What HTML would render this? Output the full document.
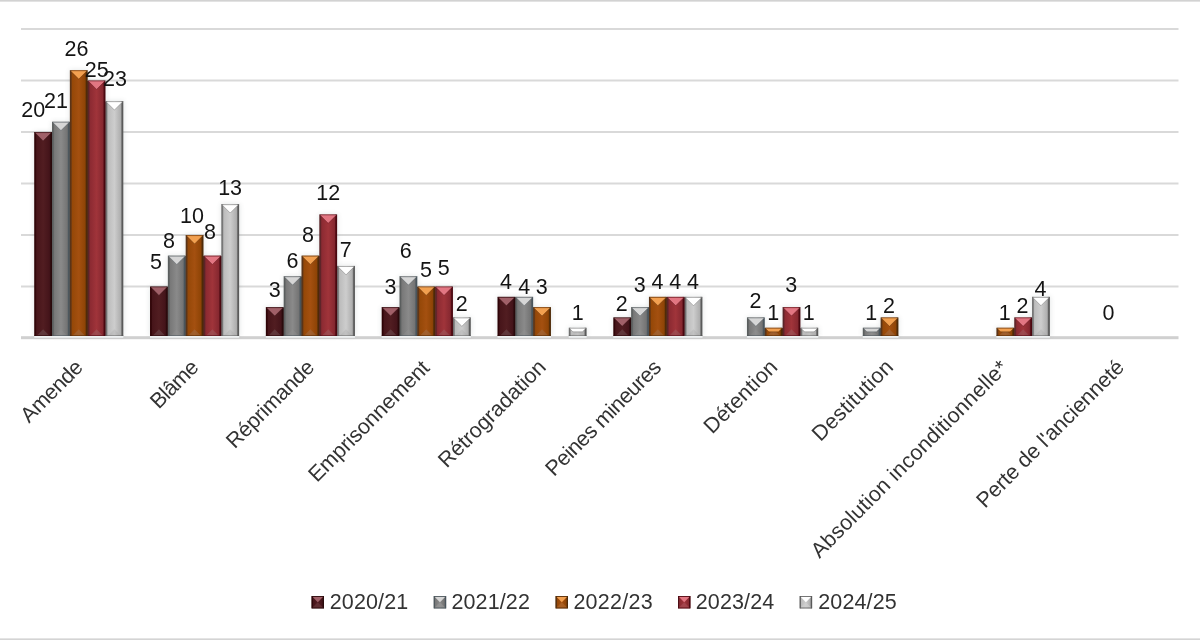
<!DOCTYPE html><html><head><meta charset="utf-8"><style>html,body{margin:0;padding:0;background:#fff;}body{width:1200px;height:640px;overflow:hidden;position:relative;}svg{position:absolute;left:0;top:0;will-change:transform;}text{font-family:"Liberation Sans",sans-serif;}</style></head><body>
<svg width="1200" height="640" viewBox="0 0 1200 640">
<defs>
<linearGradient id="g0" x1="0" x2="1" y1="0" y2="0"><stop offset="0" stop-color="#2e0306"/><stop offset="0.06" stop-color="#2e0306"/><stop offset="0.14" stop-color="#47151a"/><stop offset="0.5" stop-color="#511d21"/><stop offset="0.85" stop-color="#44141a"/><stop offset="0.93" stop-color="#2a0a0c"/><stop offset="1" stop-color="#2a0a0c"/></linearGradient>
<linearGradient id="g1" x1="0" x2="1" y1="0" y2="0"><stop offset="0" stop-color="#5a5e5e"/><stop offset="0.06" stop-color="#5a5e5e"/><stop offset="0.14" stop-color="#787878"/><stop offset="0.5" stop-color="#8a8a8a"/><stop offset="0.85" stop-color="#747474"/><stop offset="0.93" stop-color="#4a555c"/><stop offset="1" stop-color="#4a555c"/></linearGradient>
<linearGradient id="g2" x1="0" x2="1" y1="0" y2="0"><stop offset="0" stop-color="#5a3418"/><stop offset="0.06" stop-color="#5a3418"/><stop offset="0.14" stop-color="#954808"/><stop offset="0.5" stop-color="#a45010"/><stop offset="0.85" stop-color="#8e4406"/><stop offset="0.93" stop-color="#4e2a08"/><stop offset="1" stop-color="#4e2a08"/></linearGradient>
<linearGradient id="g3" x1="0" x2="1" y1="0" y2="0"><stop offset="0" stop-color="#5a2428"/><stop offset="0.06" stop-color="#5a2428"/><stop offset="0.14" stop-color="#8c2a32"/><stop offset="0.5" stop-color="#a0343a"/><stop offset="0.85" stop-color="#862830"/><stop offset="0.93" stop-color="#4a0810"/><stop offset="1" stop-color="#4a0810"/></linearGradient>
<linearGradient id="g4" x1="0" x2="1" y1="0" y2="0"><stop offset="0" stop-color="#707070"/><stop offset="0.06" stop-color="#707070"/><stop offset="0.14" stop-color="#bcbcbc"/><stop offset="0.5" stop-color="#cdcdcd"/><stop offset="0.85" stop-color="#aeaeae"/><stop offset="0.93" stop-color="#5a5a5a"/><stop offset="1" stop-color="#5a5a5a"/></linearGradient>
<filter id="sh" x="-50%" y="-50%" width="200%" height="200%"><feGaussianBlur stdDeviation="2.4"/></filter>
<linearGradient id="bg" x1="0" x2="0" y1="1" y2="0"><stop offset="0" stop-color="#fff" stop-opacity="0.22"/><stop offset="0.55" stop-color="#fff" stop-opacity="0.08"/><stop offset="1" stop-color="#fff" stop-opacity="0"/></linearGradient>
</defs>
<rect x="0" y="0" width="1200" height="1" fill="#d2d2d2"/><rect x="0" y="1" width="1200" height="1" fill="#e2e2e2"/>
<rect x="0" y="639" width="1200" height="1" fill="#d4d4d4"/><rect x="0" y="638" width="1200" height="1" fill="#e4e4e4"/>
<rect x="21" y="285.50" width="1157.5" height="2" fill="#d9d9d9"/>
<rect x="21" y="234.00" width="1157.5" height="2" fill="#d9d9d9"/>
<rect x="21" y="182.50" width="1157.5" height="2" fill="#d9d9d9"/>
<rect x="21" y="131.00" width="1157.5" height="2" fill="#d9d9d9"/>
<rect x="21" y="79.50" width="1157.5" height="2" fill="#d9d9d9"/>
<rect x="21" y="28.00" width="1157.5" height="2" fill="#d9d9d9"/>
<rect x="21" y="336.2" width="1157.5" height="3" fill="#d0d0d0"/>
<rect x="33.92" y="131.70" width="18.72" height="204.30" fill="#5a6a6a" opacity="0.16" filter="url(#sh)"/>
<rect x="51.74" y="121.40" width="18.72" height="214.60" fill="#5a6a6a" opacity="0.16" filter="url(#sh)"/>
<rect x="69.56" y="69.90" width="18.72" height="266.10" fill="#5a6a6a" opacity="0.16" filter="url(#sh)"/>
<rect x="87.38" y="80.20" width="18.72" height="255.80" fill="#5a6a6a" opacity="0.16" filter="url(#sh)"/>
<rect x="105.20" y="100.80" width="18.72" height="235.20" fill="#5a6a6a" opacity="0.16" filter="url(#sh)"/>
<rect x="149.73" y="286.20" width="18.72" height="49.80" fill="#5a6a6a" opacity="0.16" filter="url(#sh)"/>
<rect x="167.55" y="255.30" width="18.72" height="80.70" fill="#5a6a6a" opacity="0.16" filter="url(#sh)"/>
<rect x="185.38" y="234.70" width="18.72" height="101.30" fill="#5a6a6a" opacity="0.16" filter="url(#sh)"/>
<rect x="203.19" y="255.30" width="18.72" height="80.70" fill="#5a6a6a" opacity="0.16" filter="url(#sh)"/>
<rect x="221.01" y="203.80" width="18.72" height="132.20" fill="#5a6a6a" opacity="0.16" filter="url(#sh)"/>
<rect x="265.55" y="306.80" width="18.72" height="29.20" fill="#5a6a6a" opacity="0.16" filter="url(#sh)"/>
<rect x="283.37" y="275.90" width="18.72" height="60.10" fill="#5a6a6a" opacity="0.16" filter="url(#sh)"/>
<rect x="301.19" y="255.30" width="18.72" height="80.70" fill="#5a6a6a" opacity="0.16" filter="url(#sh)"/>
<rect x="319.01" y="214.10" width="18.72" height="121.90" fill="#5a6a6a" opacity="0.16" filter="url(#sh)"/>
<rect x="336.83" y="265.60" width="18.72" height="70.40" fill="#5a6a6a" opacity="0.16" filter="url(#sh)"/>
<rect x="381.38" y="306.80" width="18.72" height="29.20" fill="#5a6a6a" opacity="0.16" filter="url(#sh)"/>
<rect x="399.19" y="275.90" width="18.72" height="60.10" fill="#5a6a6a" opacity="0.16" filter="url(#sh)"/>
<rect x="417.01" y="286.20" width="18.72" height="49.80" fill="#5a6a6a" opacity="0.16" filter="url(#sh)"/>
<rect x="434.83" y="286.20" width="18.72" height="49.80" fill="#5a6a6a" opacity="0.16" filter="url(#sh)"/>
<rect x="452.66" y="317.10" width="18.72" height="18.90" fill="#5a6a6a" opacity="0.16" filter="url(#sh)"/>
<rect x="497.19" y="296.50" width="18.72" height="39.50" fill="#5a6a6a" opacity="0.16" filter="url(#sh)"/>
<rect x="515.02" y="296.50" width="18.72" height="39.50" fill="#5a6a6a" opacity="0.16" filter="url(#sh)"/>
<rect x="532.84" y="306.80" width="18.72" height="29.20" fill="#5a6a6a" opacity="0.16" filter="url(#sh)"/>
<rect x="568.48" y="327.40" width="18.72" height="8.60" fill="#5a6a6a" opacity="0.16" filter="url(#sh)"/>
<rect x="613.01" y="317.10" width="18.72" height="18.90" fill="#5a6a6a" opacity="0.16" filter="url(#sh)"/>
<rect x="630.84" y="306.80" width="18.72" height="29.20" fill="#5a6a6a" opacity="0.16" filter="url(#sh)"/>
<rect x="648.65" y="296.50" width="18.72" height="39.50" fill="#5a6a6a" opacity="0.16" filter="url(#sh)"/>
<rect x="666.48" y="296.50" width="18.72" height="39.50" fill="#5a6a6a" opacity="0.16" filter="url(#sh)"/>
<rect x="684.29" y="296.50" width="18.72" height="39.50" fill="#5a6a6a" opacity="0.16" filter="url(#sh)"/>
<rect x="746.66" y="317.10" width="18.72" height="18.90" fill="#5a6a6a" opacity="0.16" filter="url(#sh)"/>
<rect x="764.48" y="327.40" width="18.72" height="8.60" fill="#5a6a6a" opacity="0.16" filter="url(#sh)"/>
<rect x="782.30" y="306.80" width="18.72" height="29.20" fill="#5a6a6a" opacity="0.16" filter="url(#sh)"/>
<rect x="800.12" y="327.40" width="18.72" height="8.60" fill="#5a6a6a" opacity="0.16" filter="url(#sh)"/>
<rect x="862.48" y="327.40" width="18.72" height="8.60" fill="#5a6a6a" opacity="0.16" filter="url(#sh)"/>
<rect x="880.30" y="317.10" width="18.72" height="18.90" fill="#5a6a6a" opacity="0.16" filter="url(#sh)"/>
<rect x="996.12" y="327.40" width="18.72" height="8.60" fill="#5a6a6a" opacity="0.16" filter="url(#sh)"/>
<rect x="1013.94" y="317.10" width="18.72" height="18.90" fill="#5a6a6a" opacity="0.16" filter="url(#sh)"/>
<rect x="1031.76" y="296.50" width="18.72" height="39.50" fill="#5a6a6a" opacity="0.16" filter="url(#sh)"/>
<rect x="34.22" y="132.00" width="17.82" height="204.00" fill="url(#g0)"/>
<polygon points="37.02,335.40 49.24,335.40 43.13,329.29 43.12,329.29" fill="#9a9a9a" opacity="0.22"/>
<rect x="34.22" y="335.20" width="17.82" height="0.8" fill="#2a0a0c" opacity="0.6"/>
<polygon points="34.82,132.60 51.44,132.60 43.12,140.91 43.12,140.91" fill="#a06068" stroke="#2a0a0c" stroke-width="0.7" stroke-opacity="0.55" stroke-linejoin="round"/>
<rect x="51.44" y="132.50" width="1.2" height="203.50" fill="#2a0a0c"/>
<rect x="52.04" y="121.70" width="17.82" height="214.30" fill="url(#g1)"/>
<polygon points="54.84,335.40 67.06,335.40 60.95,329.29 60.95,329.29" fill="#9a9a9a" opacity="0.22"/>
<rect x="52.04" y="335.20" width="17.82" height="0.8" fill="#4a555c" opacity="0.6"/>
<polygon points="52.64,122.30 69.26,122.30 60.95,130.61 60.95,130.61" fill="#d6d6d6" stroke="#4a555c" stroke-width="0.7" stroke-opacity="0.55" stroke-linejoin="round"/>
<rect x="69.26" y="122.20" width="1.2" height="213.80" fill="#4a555c"/>
<rect x="69.86" y="70.20" width="17.82" height="265.80" fill="url(#g2)"/>
<polygon points="72.66,335.40 84.88,335.40 78.77,329.29 78.77,329.29" fill="#9a9a9a" opacity="0.22"/>
<rect x="69.86" y="335.20" width="17.82" height="0.8" fill="#4e2a08" opacity="0.6"/>
<polygon points="70.45,70.80 87.08,70.80 78.77,79.11 78.77,79.11" fill="#f2a050" stroke="#4e2a08" stroke-width="0.7" stroke-opacity="0.55" stroke-linejoin="round"/>
<rect x="87.08" y="81.00" width="1.2" height="255.00" fill="#4e2a08"/>
<rect x="87.68" y="80.50" width="17.82" height="255.50" fill="url(#g3)"/>
<polygon points="90.48,335.40 102.70,335.40 96.59,329.29 96.59,329.29" fill="#9a9a9a" opacity="0.22"/>
<rect x="87.68" y="335.20" width="17.82" height="0.8" fill="#4a0810" opacity="0.6"/>
<polygon points="88.28,81.10 104.90,81.10 96.59,89.41 96.59,89.41" fill="#e27682" stroke="#4a0810" stroke-width="0.7" stroke-opacity="0.55" stroke-linejoin="round"/>
<rect x="104.90" y="101.60" width="1.2" height="234.40" fill="#4a0810"/>
<rect x="105.50" y="101.10" width="17.82" height="234.90" fill="url(#g4)"/>
<polygon points="108.30,335.40 120.52,335.40 114.41,329.29 114.41,329.29" fill="#9a9a9a" opacity="0.22"/>
<rect x="105.50" y="335.20" width="17.82" height="0.8" fill="#5a5a5a" opacity="0.6"/>
<polygon points="106.09,101.70 122.72,101.70 114.41,110.01 114.41,110.01" fill="#ffffff" stroke="#5a5a5a" stroke-width="0.7" stroke-opacity="0.55" stroke-linejoin="round"/>
<rect x="34.22" y="336.00" width="89.10" height="1.8" fill="#eef1f2"/>
<rect x="150.03" y="286.50" width="17.82" height="49.50" fill="url(#g0)"/>
<polygon points="152.84,335.40 165.05,335.40 158.94,329.29 158.95,329.29" fill="#9a9a9a" opacity="0.22"/>
<rect x="150.03" y="335.20" width="17.82" height="0.8" fill="#2a0a0c" opacity="0.6"/>
<polygon points="150.63,287.10 167.25,287.10 158.94,295.41 158.94,295.41" fill="#a06068" stroke="#2a0a0c" stroke-width="0.7" stroke-opacity="0.55" stroke-linejoin="round"/>
<rect x="167.25" y="287.00" width="1.2" height="49.00" fill="#2a0a0c"/>
<rect x="167.85" y="255.60" width="17.82" height="80.40" fill="url(#g1)"/>
<polygon points="170.66,335.40 182.87,335.40 176.76,329.29 176.77,329.29" fill="#9a9a9a" opacity="0.22"/>
<rect x="167.85" y="335.20" width="17.82" height="0.8" fill="#4a555c" opacity="0.6"/>
<polygon points="168.45,256.20 185.07,256.20 176.76,264.51 176.76,264.51" fill="#d6d6d6" stroke="#4a555c" stroke-width="0.7" stroke-opacity="0.55" stroke-linejoin="round"/>
<rect x="185.08" y="256.10" width="1.2" height="79.90" fill="#4a555c"/>
<rect x="185.68" y="235.00" width="17.82" height="101.00" fill="url(#g2)"/>
<polygon points="188.48,335.40 200.69,335.40 194.58,329.29 194.59,329.29" fill="#9a9a9a" opacity="0.22"/>
<rect x="185.68" y="335.20" width="17.82" height="0.8" fill="#4e2a08" opacity="0.6"/>
<polygon points="186.28,235.60 202.90,235.60 194.59,243.91 194.59,243.91" fill="#f2a050" stroke="#4e2a08" stroke-width="0.7" stroke-opacity="0.55" stroke-linejoin="round"/>
<rect x="202.90" y="256.10" width="1.2" height="79.90" fill="#4e2a08"/>
<rect x="203.50" y="255.60" width="17.82" height="80.40" fill="url(#g3)"/>
<polygon points="206.30,335.40 218.51,335.40 212.40,329.29 212.41,329.29" fill="#9a9a9a" opacity="0.22"/>
<rect x="203.50" y="335.20" width="17.82" height="0.8" fill="#4a0810" opacity="0.6"/>
<polygon points="204.09,256.20 220.72,256.20 212.41,264.51 212.41,264.51" fill="#e27682" stroke="#4a0810" stroke-width="0.7" stroke-opacity="0.55" stroke-linejoin="round"/>
<rect x="220.72" y="256.10" width="1.2" height="79.90" fill="#4a0810"/>
<rect x="221.31" y="204.10" width="17.82" height="131.90" fill="url(#g4)"/>
<polygon points="224.12,335.40 236.33,335.40 230.22,329.29 230.23,329.29" fill="#9a9a9a" opacity="0.22"/>
<rect x="221.31" y="335.20" width="17.82" height="0.8" fill="#5a5a5a" opacity="0.6"/>
<polygon points="221.91,204.70 238.53,204.70 230.22,213.01 230.22,213.01" fill="#ffffff" stroke="#5a5a5a" stroke-width="0.7" stroke-opacity="0.55" stroke-linejoin="round"/>
<rect x="150.03" y="336.00" width="89.10" height="1.8" fill="#eef1f2"/>
<rect x="265.85" y="307.10" width="17.82" height="28.90" fill="url(#g0)"/>
<polygon points="268.65,335.40 280.87,335.40 274.76,329.29 274.76,329.29" fill="#9a9a9a" opacity="0.22"/>
<rect x="265.85" y="335.20" width="17.82" height="0.8" fill="#2a0a0c" opacity="0.6"/>
<polygon points="266.45,307.70 283.07,307.70 274.76,316.01 274.76,316.01" fill="#a06068" stroke="#2a0a0c" stroke-width="0.7" stroke-opacity="0.55" stroke-linejoin="round"/>
<rect x="283.07" y="307.60" width="1.2" height="28.40" fill="#2a0a0c"/>
<rect x="283.67" y="276.20" width="17.82" height="59.80" fill="url(#g1)"/>
<polygon points="286.47,335.40 298.69,335.40 292.58,329.29 292.58,329.29" fill="#9a9a9a" opacity="0.22"/>
<rect x="283.67" y="335.20" width="17.82" height="0.8" fill="#4a555c" opacity="0.6"/>
<polygon points="284.27,276.80 300.89,276.80 292.58,285.11 292.58,285.11" fill="#d6d6d6" stroke="#4a555c" stroke-width="0.7" stroke-opacity="0.55" stroke-linejoin="round"/>
<rect x="300.89" y="276.70" width="1.2" height="59.30" fill="#4a555c"/>
<rect x="301.49" y="255.60" width="17.82" height="80.40" fill="url(#g2)"/>
<polygon points="304.29,335.40 316.51,335.40 310.40,329.29 310.40,329.29" fill="#9a9a9a" opacity="0.22"/>
<rect x="301.49" y="335.20" width="17.82" height="0.8" fill="#4e2a08" opacity="0.6"/>
<polygon points="302.09,256.20 318.71,256.20 310.40,264.51 310.40,264.51" fill="#f2a050" stroke="#4e2a08" stroke-width="0.7" stroke-opacity="0.55" stroke-linejoin="round"/>
<rect x="318.71" y="256.10" width="1.2" height="79.90" fill="#4e2a08"/>
<rect x="319.31" y="214.40" width="17.82" height="121.60" fill="url(#g3)"/>
<polygon points="322.11,335.40 334.33,335.40 328.22,329.29 328.22,329.29" fill="#9a9a9a" opacity="0.22"/>
<rect x="319.31" y="335.20" width="17.82" height="0.8" fill="#4a0810" opacity="0.6"/>
<polygon points="319.91,215.00 336.53,215.00 328.22,223.31 328.22,223.31" fill="#e27682" stroke="#4a0810" stroke-width="0.7" stroke-opacity="0.55" stroke-linejoin="round"/>
<rect x="336.53" y="266.40" width="1.2" height="69.60" fill="#4a0810"/>
<rect x="337.13" y="265.90" width="17.82" height="70.10" fill="url(#g4)"/>
<polygon points="339.94,335.40 352.15,335.40 346.04,329.29 346.05,329.29" fill="#9a9a9a" opacity="0.22"/>
<rect x="337.13" y="335.20" width="17.82" height="0.8" fill="#5a5a5a" opacity="0.6"/>
<polygon points="337.74,266.50 354.35,266.50 346.04,274.81 346.05,274.81" fill="#ffffff" stroke="#5a5a5a" stroke-width="0.7" stroke-opacity="0.55" stroke-linejoin="round"/>
<rect x="265.85" y="336.00" width="89.10" height="1.8" fill="#eef1f2"/>
<rect x="381.68" y="307.10" width="17.82" height="28.90" fill="url(#g0)"/>
<polygon points="384.48,335.40 396.69,335.40 390.58,329.29 390.59,329.29" fill="#9a9a9a" opacity="0.22"/>
<rect x="381.68" y="335.20" width="17.82" height="0.8" fill="#2a0a0c" opacity="0.6"/>
<polygon points="382.28,307.70 398.89,307.70 390.58,316.01 390.59,316.01" fill="#a06068" stroke="#2a0a0c" stroke-width="0.7" stroke-opacity="0.55" stroke-linejoin="round"/>
<rect x="398.89" y="307.60" width="1.2" height="28.40" fill="#2a0a0c"/>
<rect x="399.50" y="276.20" width="17.82" height="59.80" fill="url(#g1)"/>
<polygon points="402.30,335.40 414.51,335.40 408.40,329.29 408.41,329.29" fill="#9a9a9a" opacity="0.22"/>
<rect x="399.50" y="335.20" width="17.82" height="0.8" fill="#4a555c" opacity="0.6"/>
<polygon points="400.10,276.80 416.71,276.80 408.40,285.11 408.41,285.11" fill="#d6d6d6" stroke="#4a555c" stroke-width="0.7" stroke-opacity="0.55" stroke-linejoin="round"/>
<rect x="416.71" y="287.00" width="1.2" height="49.00" fill="#4a555c"/>
<rect x="417.31" y="286.50" width="17.82" height="49.50" fill="url(#g2)"/>
<polygon points="420.12,335.40 432.33,335.40 426.22,329.29 426.23,329.29" fill="#9a9a9a" opacity="0.22"/>
<rect x="417.31" y="335.20" width="17.82" height="0.8" fill="#4e2a08" opacity="0.6"/>
<polygon points="417.92,287.10 434.53,287.10 426.22,295.41 426.23,295.41" fill="#f2a050" stroke="#4e2a08" stroke-width="0.7" stroke-opacity="0.55" stroke-linejoin="round"/>
<rect x="434.53" y="287.00" width="1.2" height="49.00" fill="#4e2a08"/>
<rect x="435.13" y="286.50" width="17.82" height="49.50" fill="url(#g3)"/>
<polygon points="437.94,335.40 450.15,335.40 444.04,329.29 444.05,329.29" fill="#9a9a9a" opacity="0.22"/>
<rect x="435.13" y="335.20" width="17.82" height="0.8" fill="#4a0810" opacity="0.6"/>
<polygon points="435.74,287.10 452.35,287.10 444.04,295.41 444.05,295.41" fill="#e27682" stroke="#4a0810" stroke-width="0.7" stroke-opacity="0.55" stroke-linejoin="round"/>
<rect x="452.36" y="317.90" width="1.2" height="18.10" fill="#4a0810"/>
<rect x="452.96" y="317.40" width="17.82" height="18.60" fill="url(#g4)"/>
<polygon points="455.76,335.40 467.98,335.40 461.87,329.29 461.87,329.29" fill="#9a9a9a" opacity="0.22"/>
<rect x="452.96" y="335.20" width="17.82" height="0.8" fill="#5a5a5a" opacity="0.6"/>
<polygon points="453.56,318.00 470.18,318.00 461.87,326.31 461.87,326.31" fill="#ffffff" stroke="#5a5a5a" stroke-width="0.7" stroke-opacity="0.55" stroke-linejoin="round"/>
<rect x="381.68" y="336.00" width="89.10" height="1.8" fill="#eef1f2"/>
<rect x="497.50" y="296.80" width="17.82" height="39.20" fill="url(#g0)"/>
<polygon points="500.30,335.40 512.52,335.40 506.41,329.29 506.41,329.29" fill="#9a9a9a" opacity="0.22"/>
<rect x="497.50" y="335.20" width="17.82" height="0.8" fill="#2a0a0c" opacity="0.6"/>
<polygon points="498.10,297.40 514.72,297.40 506.41,305.71 506.41,305.71" fill="#a06068" stroke="#2a0a0c" stroke-width="0.7" stroke-opacity="0.55" stroke-linejoin="round"/>
<rect x="514.72" y="297.30" width="1.2" height="38.70" fill="#2a0a0c"/>
<rect x="515.32" y="296.80" width="17.82" height="39.20" fill="url(#g1)"/>
<polygon points="518.12,335.40 530.34,335.40 524.23,329.29 524.23,329.29" fill="#9a9a9a" opacity="0.22"/>
<rect x="515.32" y="335.20" width="17.82" height="0.8" fill="#4a555c" opacity="0.6"/>
<polygon points="515.92,297.40 532.54,297.40 524.23,305.71 524.23,305.71" fill="#d6d6d6" stroke="#4a555c" stroke-width="0.7" stroke-opacity="0.55" stroke-linejoin="round"/>
<rect x="532.53" y="307.60" width="1.2" height="28.40" fill="#4a555c"/>
<rect x="533.13" y="307.10" width="17.82" height="28.90" fill="url(#g2)"/>
<polygon points="535.93,335.40 548.16,335.40 542.05,329.29 542.04,329.29" fill="#9a9a9a" opacity="0.22"/>
<rect x="533.13" y="335.20" width="17.82" height="0.8" fill="#4e2a08" opacity="0.6"/>
<polygon points="533.74,307.70 550.36,307.70 542.05,316.01 542.04,316.01" fill="#f2a050" stroke="#4e2a08" stroke-width="0.7" stroke-opacity="0.55" stroke-linejoin="round"/>
<rect x="568.77" y="327.70" width="17.82" height="8.30" fill="url(#g4)"/>
<polygon points="571.57,335.40 583.80,335.40 579.65,331.25 575.72,331.25" fill="#9a9a9a" opacity="0.22"/>
<rect x="568.77" y="335.20" width="17.82" height="0.8" fill="#5a5a5a" opacity="0.6"/>
<polygon points="569.38,328.30 586.00,328.30 582.45,331.85 572.92,331.85" fill="#ffffff" stroke="#5a5a5a" stroke-width="0.7" stroke-opacity="0.55" stroke-linejoin="round"/>
<rect x="497.50" y="336.00" width="53.46" height="1.8" fill="#eef1f2"/>
<rect x="568.77" y="336.00" width="17.82" height="1.8" fill="#eef1f2"/>
<rect x="613.31" y="317.40" width="17.82" height="18.60" fill="url(#g0)"/>
<polygon points="616.11,335.40 628.34,335.40 622.23,329.29 622.22,329.29" fill="#9a9a9a" opacity="0.22"/>
<rect x="613.31" y="335.20" width="17.82" height="0.8" fill="#2a0a0c" opacity="0.6"/>
<polygon points="613.91,318.00 630.53,318.00 622.23,326.31 622.22,326.31" fill="#a06068" stroke="#2a0a0c" stroke-width="0.7" stroke-opacity="0.55" stroke-linejoin="round"/>
<rect x="630.53" y="317.90" width="1.2" height="18.10" fill="#2a0a0c"/>
<rect x="631.13" y="307.10" width="17.82" height="28.90" fill="url(#g1)"/>
<polygon points="633.93,335.40 646.16,335.40 640.05,329.29 640.04,329.29" fill="#9a9a9a" opacity="0.22"/>
<rect x="631.13" y="335.20" width="17.82" height="0.8" fill="#4a555c" opacity="0.6"/>
<polygon points="631.74,307.70 648.36,307.70 640.05,316.01 640.04,316.01" fill="#d6d6d6" stroke="#4a555c" stroke-width="0.7" stroke-opacity="0.55" stroke-linejoin="round"/>
<rect x="648.35" y="307.60" width="1.2" height="28.40" fill="#4a555c"/>
<rect x="648.95" y="296.80" width="17.82" height="39.20" fill="url(#g2)"/>
<polygon points="651.75,335.40 663.98,335.40 657.87,329.29 657.86,329.29" fill="#9a9a9a" opacity="0.22"/>
<rect x="648.95" y="335.20" width="17.82" height="0.8" fill="#4e2a08" opacity="0.6"/>
<polygon points="649.55,297.40 666.17,297.40 657.87,305.71 657.86,305.71" fill="#f2a050" stroke="#4e2a08" stroke-width="0.7" stroke-opacity="0.55" stroke-linejoin="round"/>
<rect x="666.17" y="297.30" width="1.2" height="38.70" fill="#4e2a08"/>
<rect x="666.77" y="296.80" width="17.82" height="39.20" fill="url(#g3)"/>
<polygon points="669.57,335.40 681.80,335.40 675.69,329.29 675.68,329.29" fill="#9a9a9a" opacity="0.22"/>
<rect x="666.77" y="335.20" width="17.82" height="0.8" fill="#4a0810" opacity="0.6"/>
<polygon points="667.38,297.40 684.00,297.40 675.69,305.71 675.68,305.71" fill="#e27682" stroke="#4a0810" stroke-width="0.7" stroke-opacity="0.55" stroke-linejoin="round"/>
<rect x="683.99" y="297.30" width="1.2" height="38.70" fill="#4a0810"/>
<rect x="684.59" y="296.80" width="17.82" height="39.20" fill="url(#g4)"/>
<polygon points="687.39,335.40 699.62,335.40 693.50,329.29 693.50,329.29" fill="#9a9a9a" opacity="0.22"/>
<rect x="684.59" y="335.20" width="17.82" height="0.8" fill="#5a5a5a" opacity="0.6"/>
<polygon points="685.19,297.40 701.81,297.40 693.50,305.71 693.50,305.71" fill="#ffffff" stroke="#5a5a5a" stroke-width="0.7" stroke-opacity="0.55" stroke-linejoin="round"/>
<rect x="613.31" y="336.00" width="89.10" height="1.8" fill="#eef1f2"/>
<rect x="746.96" y="317.40" width="17.82" height="18.60" fill="url(#g1)"/>
<polygon points="749.75,335.40 761.98,335.40 755.87,329.29 755.87,329.29" fill="#9a9a9a" opacity="0.22"/>
<rect x="746.96" y="335.20" width="17.82" height="0.8" fill="#4a555c" opacity="0.6"/>
<polygon points="747.56,318.00 764.18,318.00 755.87,326.31 755.87,326.31" fill="#d6d6d6" stroke="#4a555c" stroke-width="0.7" stroke-opacity="0.55" stroke-linejoin="round"/>
<rect x="764.17" y="328.20" width="1.2" height="7.80" fill="#4a555c"/>
<rect x="764.77" y="327.70" width="17.82" height="8.30" fill="url(#g2)"/>
<polygon points="767.57,335.40 779.80,335.40 775.65,331.25 771.72,331.25" fill="#9a9a9a" opacity="0.22"/>
<rect x="764.77" y="335.20" width="17.82" height="0.8" fill="#4e2a08" opacity="0.6"/>
<polygon points="765.38,328.30 782.00,328.30 778.45,331.85 768.92,331.85" fill="#f2a050" stroke="#4e2a08" stroke-width="0.7" stroke-opacity="0.55" stroke-linejoin="round"/>
<rect x="782.00" y="328.20" width="1.2" height="7.80" fill="#4e2a08"/>
<rect x="782.60" y="307.10" width="17.82" height="28.90" fill="url(#g3)"/>
<polygon points="785.39,335.40 797.62,335.40 791.51,329.29 791.50,329.29" fill="#9a9a9a" opacity="0.22"/>
<rect x="782.60" y="335.20" width="17.82" height="0.8" fill="#4a0810" opacity="0.6"/>
<polygon points="783.20,307.70 799.82,307.70 791.51,316.01 791.50,316.01" fill="#e27682" stroke="#4a0810" stroke-width="0.7" stroke-opacity="0.55" stroke-linejoin="round"/>
<rect x="799.81" y="328.20" width="1.2" height="7.80" fill="#4a0810"/>
<rect x="800.41" y="327.70" width="17.82" height="8.30" fill="url(#g4)"/>
<polygon points="803.21,335.40 815.44,335.40 811.29,331.25 807.36,331.25" fill="#9a9a9a" opacity="0.22"/>
<rect x="800.41" y="335.20" width="17.82" height="0.8" fill="#5a5a5a" opacity="0.6"/>
<polygon points="801.01,328.30 817.63,328.30 814.09,331.85 804.56,331.85" fill="#ffffff" stroke="#5a5a5a" stroke-width="0.7" stroke-opacity="0.55" stroke-linejoin="round"/>
<rect x="746.96" y="336.00" width="71.28" height="1.8" fill="#eef1f2"/>
<rect x="862.78" y="327.70" width="17.82" height="8.30" fill="url(#g1)"/>
<polygon points="865.58,335.40 877.80,335.40 873.65,331.25 869.73,331.25" fill="#9a9a9a" opacity="0.22"/>
<rect x="862.78" y="335.20" width="17.82" height="0.8" fill="#4a555c" opacity="0.6"/>
<polygon points="863.38,328.30 880.00,328.30 876.45,331.85 866.93,331.85" fill="#d6d6d6" stroke="#4a555c" stroke-width="0.7" stroke-opacity="0.55" stroke-linejoin="round"/>
<rect x="880.00" y="328.20" width="1.2" height="7.80" fill="#4a555c"/>
<rect x="880.60" y="317.40" width="17.82" height="18.60" fill="url(#g2)"/>
<polygon points="883.39,335.40 895.62,335.40 889.51,329.29 889.50,329.29" fill="#9a9a9a" opacity="0.22"/>
<rect x="880.60" y="335.20" width="17.82" height="0.8" fill="#4e2a08" opacity="0.6"/>
<polygon points="881.20,318.00 897.82,318.00 889.51,326.31 889.50,326.31" fill="#f2a050" stroke="#4e2a08" stroke-width="0.7" stroke-opacity="0.55" stroke-linejoin="round"/>
<rect x="862.78" y="336.00" width="35.64" height="1.8" fill="#eef1f2"/>
<rect x="996.41" y="327.70" width="17.82" height="8.30" fill="url(#g2)"/>
<polygon points="999.21,335.40 1011.44,335.40 1007.29,331.25 1003.36,331.25" fill="#9a9a9a" opacity="0.22"/>
<rect x="996.41" y="335.20" width="17.82" height="0.8" fill="#4e2a08" opacity="0.6"/>
<polygon points="997.01,328.30 1013.63,328.30 1010.09,331.85 1000.56,331.85" fill="#f2a050" stroke="#4e2a08" stroke-width="0.7" stroke-opacity="0.55" stroke-linejoin="round"/>
<rect x="1013.63" y="328.20" width="1.2" height="7.80" fill="#4e2a08"/>
<rect x="1014.24" y="317.40" width="17.82" height="18.60" fill="url(#g3)"/>
<polygon points="1017.03,335.40 1029.26,335.40 1023.15,329.29 1023.14,329.29" fill="#9a9a9a" opacity="0.22"/>
<rect x="1014.24" y="335.20" width="17.82" height="0.8" fill="#4a0810" opacity="0.6"/>
<polygon points="1014.84,318.00 1031.46,318.00 1023.15,326.31 1023.14,326.31" fill="#e27682" stroke="#4a0810" stroke-width="0.7" stroke-opacity="0.55" stroke-linejoin="round"/>
<rect x="1031.46" y="317.90" width="1.2" height="18.10" fill="#4a0810"/>
<rect x="1032.06" y="296.80" width="17.82" height="39.20" fill="url(#g4)"/>
<polygon points="1034.86,335.40 1047.08,335.40 1040.97,329.29 1040.96,329.29" fill="#9a9a9a" opacity="0.22"/>
<rect x="1032.06" y="335.20" width="17.82" height="0.8" fill="#5a5a5a" opacity="0.6"/>
<polygon points="1032.65,297.40 1049.28,297.40 1040.96,305.71 1040.97,305.71" fill="#ffffff" stroke="#5a5a5a" stroke-width="0.7" stroke-opacity="0.55" stroke-linejoin="round"/>
<rect x="996.41" y="336.00" width="53.46" height="1.8" fill="#eef1f2"/>
<text x="21.20" y="116.90" font-size="21.5" fill="#141414">20</text>
<text x="43.95" y="107.85" font-size="21.5" fill="#141414">21</text>
<text x="64.60" y="55.70" font-size="21.5" fill="#141414">26</text>
<text x="84.70" y="76.60" font-size="21.5" fill="#141414">25</text>
<text x="103.00" y="86.20" font-size="21.5" fill="#141414">23</text>
<text x="150.05" y="269.40" font-size="21.5" fill="#141414">5</text>
<text x="163.10" y="248.30" font-size="21.5" fill="#141414">8</text>
<text x="180.10" y="223.00" font-size="21.5" fill="#141414">10</text>
<text x="204.00" y="238.90" font-size="21.5" fill="#141414">8</text>
<text x="218.15" y="195.20" font-size="21.5" fill="#141414">13</text>
<text x="268.65" y="296.80" font-size="21.5" fill="#141414">3</text>
<text x="286.40" y="267.90" font-size="21.5" fill="#141414">6</text>
<text x="301.90" y="241.80" font-size="21.5" fill="#141414">8</text>
<text x="316.30" y="200.20" font-size="21.5" fill="#141414">12</text>
<text x="339.75" y="256.80" font-size="21.5" fill="#141414">7</text>
<text x="384.45" y="294.30" font-size="21.5" fill="#141414">3</text>
<text x="399.70" y="258.30" font-size="21.5" fill="#141414">6</text>
<text x="420.05" y="277.40" font-size="21.5" fill="#141414">5</text>
<text x="437.65" y="275.20" font-size="21.5" fill="#141414">5</text>
<text x="455.75" y="310.90" font-size="21.5" fill="#141414">2</text>
<text x="499.95" y="288.60" font-size="21.5" fill="#141414">4</text>
<text x="518.15" y="293.60" font-size="21.5" fill="#141414">4</text>
<text x="535.75" y="294.30" font-size="21.5" fill="#141414">3</text>
<text x="571.70" y="319.85" font-size="21.5" fill="#141414">1</text>
<text x="615.80" y="310.70" font-size="21.5" fill="#141414">2</text>
<text x="633.65" y="291.80" font-size="21.5" fill="#141414">3</text>
<text x="651.55" y="288.60" font-size="21.5" fill="#141414">4</text>
<text x="669.25" y="288.60" font-size="21.5" fill="#141414">4</text>
<text x="687.05" y="288.60" font-size="21.5" fill="#141414">4</text>
<text x="749.55" y="308.20" font-size="21.5" fill="#141414">2</text>
<text x="767.20" y="320.00" font-size="21.5" fill="#141414">1</text>
<text x="785.15" y="292.10" font-size="21.5" fill="#141414">3</text>
<text x="802.80" y="320.00" font-size="21.5" fill="#141414">1</text>
<text x="865.20" y="319.90" font-size="21.5" fill="#141414">1</text>
<text x="882.95" y="313.10" font-size="21.5" fill="#141414">2</text>
<text x="998.80" y="319.80" font-size="21.5" fill="#141414">1</text>
<text x="1016.55" y="312.90" font-size="21.5" fill="#141414">2</text>
<text x="1034.55" y="295.90" font-size="21.5" fill="#141414">4</text>
<text x="1102.60" y="319.90" font-size="21.5" fill="#141414">0</text>
<text x="29.07" y="423.73" font-size="21.5" fill="#333333" letter-spacing="-0.400" transform="rotate(-45 29.07 423.73)">Amende</text>
<text x="158.69" y="409.81" font-size="21.5" fill="#333333" letter-spacing="-0.650" transform="rotate(-45 158.69 409.81)">Blâme</text>
<text x="234.79" y="449.41" font-size="21.5" fill="#333333" letter-spacing="-0.311" transform="rotate(-45 234.79 449.41)">Réprimande</text>
<text x="316.96" y="482.94" font-size="21.5" fill="#333333" letter-spacing="-0.123" transform="rotate(-45 316.96 482.94)">Emprisonnement</text>
<text x="446.79" y="468.81" font-size="21.5" fill="#333333" letter-spacing="-0.008" transform="rotate(-45 446.79 468.81)">Rétrogradation</text>
<text x="554.00" y="477.30" font-size="21.5" fill="#333333" letter-spacing="-0.464" transform="rotate(-45 554.00 477.30)">Peines mineures</text>
<text x="712.33" y="434.67" font-size="21.5" fill="#333333" letter-spacing="0.238" transform="rotate(-45 712.33 434.67)">Détention</text>
<text x="820.53" y="442.17" font-size="21.5" fill="#333333" letter-spacing="0.300" transform="rotate(-45 820.53 442.17)">Destitution</text>
<text x="819.47" y="558.93" font-size="21.5" fill="#333333" letter-spacing="0.207" transform="rotate(-45 819.47 558.93)">Absolution inconditionnelle*</text>
<text x="985.02" y="509.08" font-size="21.5" fill="#333333" letter-spacing="-0.130" transform="rotate(-45 985.02 509.08)">Perte de l'ancienneté</text>
<rect x="311.60" y="596.0" width="12.4" height="12.4" fill="url(#g0)"/>
<polygon points="312.20,607.80 323.40,607.80 317.80,602.20" fill="#6a3a3e" opacity="0.6"/>
<polygon points="312.20,596.60 323.40,596.60 317.80,602.20" fill="#a06068"/>
<rect x="312.00" y="596.4" width="11.6" height="11.6" fill="none" stroke="#2a0a0c" stroke-width="0.8"/>
<text x="329.70" y="608.7" font-size="21.5" fill="#333333" letter-spacing="0.150">2020/21</text>
<rect x="433.75" y="596.0" width="12.4" height="12.4" fill="url(#g1)"/>
<polygon points="434.35,607.80 445.55,607.80 439.95,602.20" fill="#9a9a9a" opacity="0.6"/>
<polygon points="434.35,596.60 445.55,596.60 439.95,602.20" fill="#d6d6d6"/>
<rect x="434.15" y="596.4" width="11.6" height="11.6" fill="none" stroke="#4a555c" stroke-width="0.8"/>
<text x="451.40" y="608.7" font-size="21.5" fill="#333333" letter-spacing="0.125">2021/22</text>
<rect x="555.60" y="596.0" width="12.4" height="12.4" fill="url(#g2)"/>
<polygon points="556.20,607.80 567.40,607.80 561.80,602.20" fill="#b06a30" opacity="0.6"/>
<polygon points="556.20,596.60 567.40,596.60 561.80,602.20" fill="#f2a050"/>
<rect x="556.00" y="596.4" width="11.6" height="11.6" fill="none" stroke="#4e2a08" stroke-width="0.8"/>
<text x="573.40" y="608.7" font-size="21.5" fill="#333333" letter-spacing="0.267">2022/23</text>
<rect x="678.00" y="596.0" width="12.4" height="12.4" fill="url(#g3)"/>
<polygon points="678.60,607.80 689.80,607.80 684.20,602.20" fill="#a85058" opacity="0.6"/>
<polygon points="678.60,596.60 689.80,596.60 684.20,602.20" fill="#e27682"/>
<rect x="678.40" y="596.4" width="11.6" height="11.6" fill="none" stroke="#4a0810" stroke-width="0.8"/>
<text x="695.70" y="608.7" font-size="21.5" fill="#333333" letter-spacing="0.150">2023/24</text>
<rect x="799.70" y="596.0" width="12.4" height="12.4" fill="url(#g4)"/>
<polygon points="800.30,607.80 811.50,607.80 805.90,602.20" fill="#d0d0d0" opacity="0.6"/>
<polygon points="800.30,596.60 811.50,596.60 805.90,602.20" fill="#ffffff"/>
<rect x="800.10" y="596.4" width="11.6" height="11.6" fill="none" stroke="#5a5a5a" stroke-width="0.8"/>
<text x="818.20" y="608.7" font-size="21.5" fill="#333333" letter-spacing="0.150">2024/25</text>
</svg>
</body></html>
